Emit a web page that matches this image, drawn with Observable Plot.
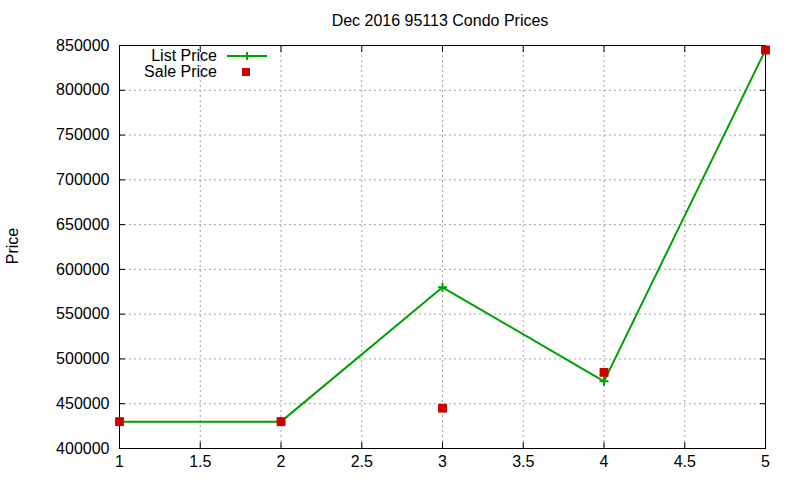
<!DOCTYPE html>
<html>
<head>
<meta charset="utf-8">
<script src="https://cdn.jsdelivr.net/npm/d3@7"></script>
<script src="https://cdn.jsdelivr.net/npm/@observablehq/plot@0.6"></script>
<style>
  html, body { margin: 0; padding: 0; background: #fff; }
  #chart svg { display: block; font-family: "Liberation Sans", Arial, sans-serif; }
</style>
</head>
<body>
<div id="chart"></div>
<script>
// Dec 2016 condo prices, ZIP 95113
const units = [1, 2, 3, 4, 5];
const listPrice = [430000, 430000, 580000, 475000, 845000];
const salePrice = [430000, 430000, 445000, 485000, 845000];
const xTicks = [1, 1.5, 2, 2.5, 3, 3.5, 4, 4.5, 5];
const yTicks = [400000, 450000, 500000, 550000, 600000, 650000, 700000, 750000, 800000, 850000];

const listRows = units.map((u, i) => ({x: u, y: listPrice[i]}));
const saleRows = units.map((u, i) => ({x: u, y: salePrice[i]}));

const green = "#00a000";
const red = "#cc0000";
const gridStyle = {stroke: "#a0a0a0", strokeOpacity: 1, strokeDasharray: "2,3"};

const chart = Plot.plot({
  width: 800,
  height: 480,
  marginLeft: 119,
  marginRight: 35,
  marginTop: 45,
  marginBottom: 32,
  style: {fontSize: "16px", color: "#000", background: "#fff"},
  x: {domain: [1, 5]},
  y: {domain: [400000, 850000]},
  marks: [
    Plot.gridX(xTicks, gridStyle),
    Plot.gridY(yTicks, gridStyle),
    // tick labels
    Plot.axisX(xTicks, {anchor: "bottom", tickSize: 0, tickPadding: 7, label: null, tickFormat: d => String(d)}),
    Plot.axisY(yTicks, {anchor: "left", tickSize: 0, tickPadding: 10, label: null, tickFormat: d => String(d)}),
    // inward tick marks on all four sides
    Plot.axisX(xTicks, {anchor: "bottom", tickSize: -6, label: null, tickFormat: () => ""}),
    Plot.axisX(xTicks, {anchor: "top", tickSize: -6, label: null, tickFormat: () => ""}),
    Plot.axisY(yTicks, {anchor: "left", tickSize: -6, label: null, tickFormat: () => ""}),
    Plot.axisY(yTicks, {anchor: "right", tickSize: -6, label: null, tickFormat: () => ""}),
    Plot.frame({stroke: "#000", strokeWidth: 1}),
    Plot.line(listRows, {x: "x", y: "y", stroke: green, strokeWidth: 2}),
    Plot.dot(listRows, {x: "x", y: "y", symbol: "plus", r: 3, stroke: green, strokeWidth: 2}),
    Plot.dot(saleRows, {x: "x", y: "y", symbol: "square", r: 5, fill: red, stroke: "none"})
  ]
});

document.getElementById("chart").appendChild(chart);

// Title, y-axis label and key
const svg = d3.select(chart);
const font = "'Liberation Sans', Arial, sans-serif";

svg.append("text")
  .attr("x", 440).attr("y", 26)
  .attr("text-anchor", "middle")
  .attr("font-family", font).attr("font-size", 16)
  .attr("fill", "#000")
  .text("Dec 2016 95113 Condo Prices");

svg.append("text")
  .attr("transform", "translate(18,246) rotate(-90)")
  .attr("text-anchor", "middle")
  .attr("font-family", font).attr("font-size", 16)
  .attr("fill", "#000")
  .text("Price");

const key = svg.append("g").attr("font-family", font).attr("font-size", 16);
key.append("text").attr("x", 217).attr("y", 61).attr("text-anchor", "end").attr("fill", "#000").text("List Price");
key.append("text").attr("x", 217).attr("y", 77).attr("text-anchor", "end").attr("fill", "#000").text("Sale Price");
key.append("line").attr("x1", 227).attr("x2", 267).attr("y1", 56).attr("y2", 56).attr("stroke", green).attr("stroke-width", 2);
key.append("path").attr("d", "M247,52V60M243,56H251").attr("stroke", green).attr("stroke-width", 2);
key.append("rect").attr("x", 242).attr("y", 68).attr("width", 8).attr("height", 8).attr("fill", red);
</script>
</body>
</html>
